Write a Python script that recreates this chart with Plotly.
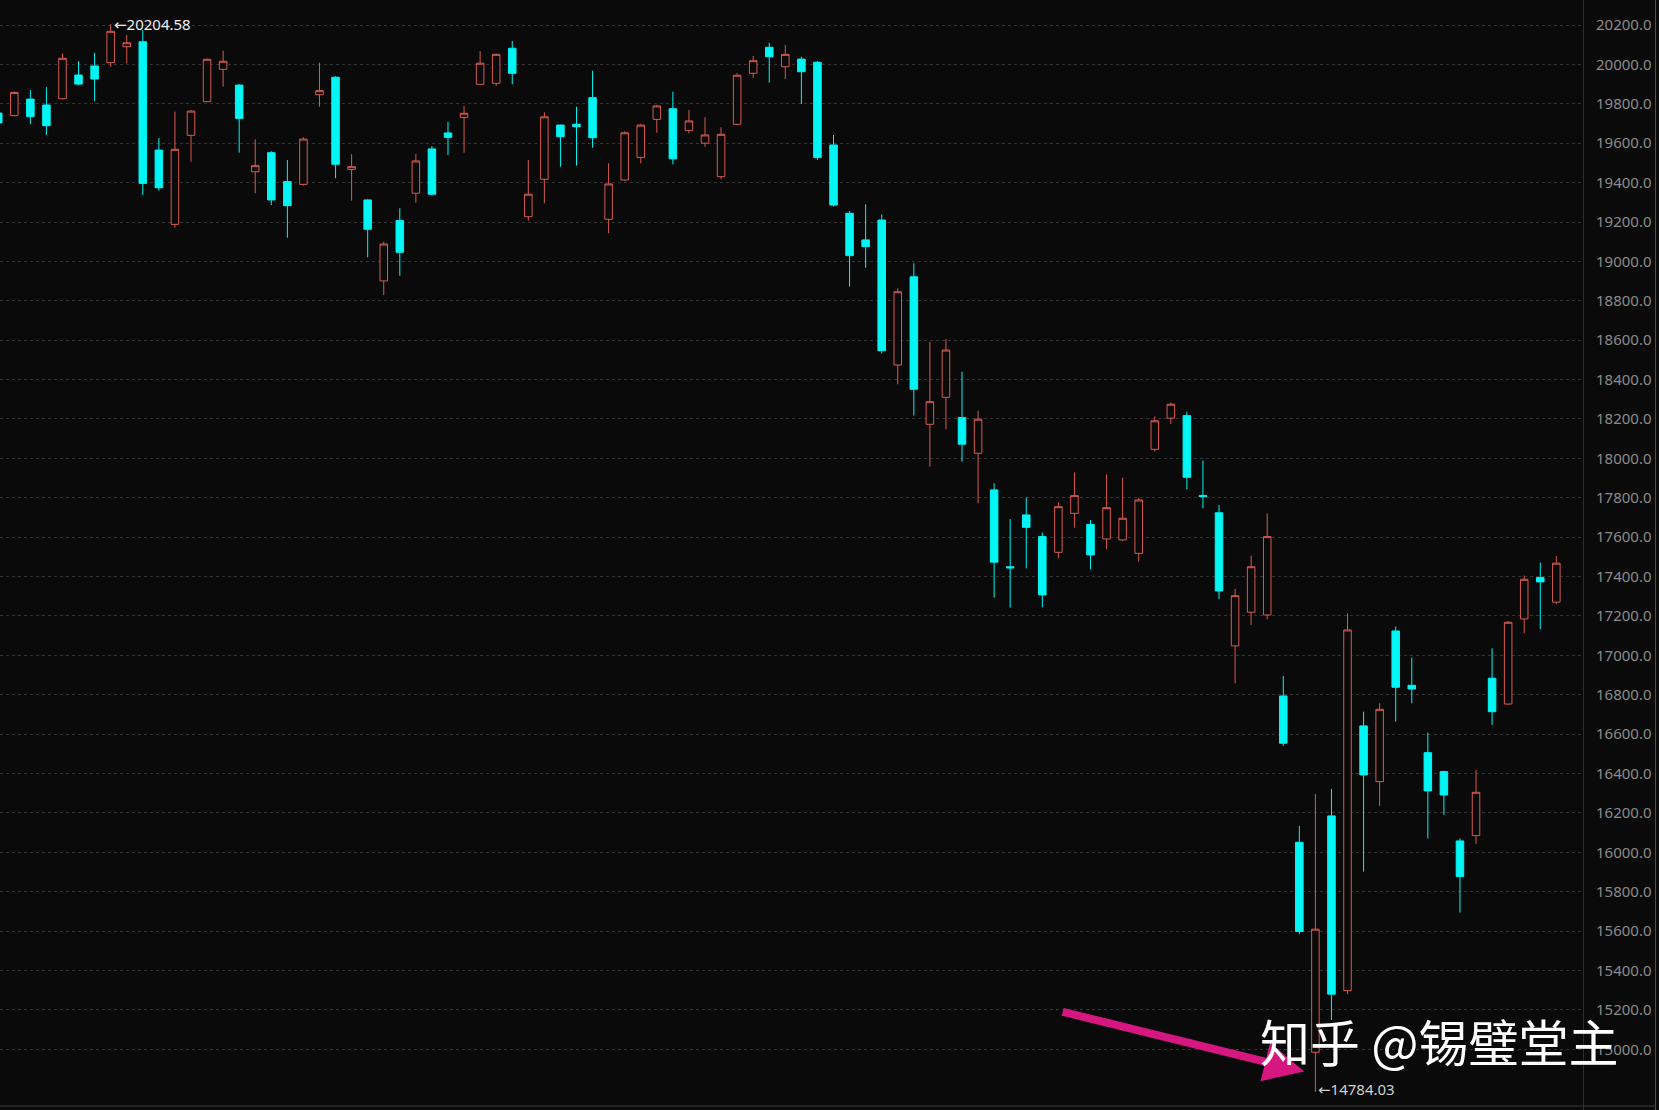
import plotly.graph_objects as go

idx = list(range(98))

opens = [19753, 19740, 19824, 19794, 19826, 19946, 19992, 20009, 20090, 20115,
         19565, 19188, 19640, 19811, 19975, 19895, 19455, 19552, 19405, 19391,
         19846, 19935, 19467, 19312, 18901, 19207, 19346, 19571, 19652, 19731,
         19899, 19904, 20082, 19227, 19417, 19692, 19696, 19831, 19214, 19413,
         19528, 19721, 19775, 19664, 19600, 19430, 19696, 19955, 20087, 19988,
         20027, 20011, 19591, 19244, 19109, 19210, 18474, 18922, 18173, 18310,
         18207, 18026, 17840, 17450, 17713, 17603, 17523, 17721, 17665, 17591,
         17586, 17518, 18046, 18204, 18217, 17812, 17724, 17048, 17219, 17205,
         16794, 16051, 14985, 16185, 15298, 16642, 16359, 17124, 16848, 16506,
         16410, 16058, 16085, 16884, 16753, 17185, 17395, 17270]
highs = [19775, 19862, 19870, 19884, 20056, 20017, 20059, 20204.58, 20149, 20175,
         19626, 19760, 19768, 20030, 20070, 19900, 19620, 19560, 19515, 19630,
         20009, 19940, 19545, 19315, 19100, 19270, 19545, 19585, 19709, 19789,
         20068, 20055, 20119, 19515, 19757, 19695, 19785, 19968, 19498, 19660,
         19698, 19795, 19861, 19769, 19732, 19681, 19955, 20043, 20110, 20098,
         20039, 20017, 19642, 19256, 19290, 19239, 18863, 18990, 18592, 18606,
         18440, 18242, 17874, 17692, 17801, 17623, 17777, 17929, 17687, 17919,
         17902, 17801, 18212, 18283, 18237, 17989, 17763, 17337, 17506, 17721,
         16895, 16134, 16296, 16322, 17214, 16714, 16757, 17146, 16988, 16608,
         16415, 16071, 16418, 17036, 17175, 17405, 17471, 17505]
lows = [19690, 19736, 19697, 19642, 19822, 19894, 19814, 19988, 20005, 19337,
        19359, 19171, 19506, 19808, 19887, 19552, 19346, 19286, 19120, 19385,
        19785, 19422, 19308, 19021, 18830, 18927, 19298, 19335, 19540, 19552,
        19895, 19890, 19899, 19207, 19295, 19481, 19486, 19577, 19143, 19410,
        19498, 19653, 19493, 19650, 19582, 19417, 19690, 19932, 19907, 19926,
        19799, 19515, 19278, 18872, 18968, 18533, 18376, 18217, 17958, 18148,
        17983, 17772, 17293, 17242, 17442, 17244, 17493, 17648, 17437, 17539,
        17581, 17476, 18034, 18175, 17843, 17747, 17285, 16858, 17154, 17183,
        16540, 15584, 14784.03, 15149, 15280, 15902, 16236, 16664, 16757, 16071,
        16190, 15694, 16043, 16647, 16748, 17112, 17133, 17261]
closes = [19703, 19858, 19735, 19689, 20031, 19900, 19926, 20168, 20110, 19396,
          19374, 19569, 19763, 20026, 20016, 19726, 19486, 19312, 19283, 19621,
          19867, 19493, 19481, 19163, 19088, 19046, 19510, 19341, 19630, 19752,
          20006, 20051, 19955, 19341, 19734, 19633, 19684, 19628, 19393, 19653,
          19692, 19789, 19521, 19713, 19642, 19645, 19945, 20019, 20039, 20051,
          19963, 19527, 19286, 19029, 19075, 18547, 18846, 18351, 18288, 18550,
          18072, 18199, 17473, 17444, 17650, 17307, 17755, 17811, 17510, 17750,
          17696, 17789, 18191, 18275, 17904, 17806, 17327, 17303, 17450, 17603,
          16554, 15598, 15610, 15280, 17129, 16393, 16726, 16838, 16829, 16312,
          16291, 15877, 16305, 16714, 17168, 17386, 17373, 17468]

tick_vals = [15000 + 200 * k for k in range(27)]
tick_text = [f"{v:.1f}" for v in tick_vals]

max_label = "←20204.58"
min_label = "←14784.03"
watermark = "知乎 @锡璧堂主"

BG = "#0a0a0a"
RED = "#d65a50"
CYAN = "#00f5f5"

fig = go.Figure()
fig.add_trace(go.Candlestick(
    x=idx, open=opens, high=highs, low=lows, close=closes,
    increasing=dict(line=dict(color=RED, width=1), fillcolor=BG),
    decreasing=dict(line=dict(color=CYAN, width=1), fillcolor=CYAN),
    whiskerwidth=0, hoverinfo="skip", showlegend=False,
))

fig.update_layout(
    width=1659, height=1110,
    margin=dict(l=0, r=76, t=0, b=0),
    paper_bgcolor=BG, plot_bgcolor=BG,
    boxgap=0.33,
    font=dict(family="Noto Sans, DejaVu Sans, sans-serif"),
    xaxis=dict(range=[0.11, 98.66], visible=False, rangeslider=dict(visible=False),
               showgrid=False, zeroline=False, fixedrange=True),
    yaxis=dict(range=[14692, 20327], side="right", tickvals=tick_vals, ticktext=tick_text,
               tickfont=dict(size=15, color="#8a8a8a"), ticks="", ticklabelstandoff=9,
               showgrid=True, gridcolor="#333333", griddash="dot", gridwidth=1,
               showline=True, linecolor="#2e2e2e", linewidth=1, zeroline=False),
    annotations=[
        dict(x=7, y=20204.58, xref="x", yref="y", text=max_label, showarrow=False,
             xanchor="left", yanchor="middle", xshift=1,
             font=dict(size=15, color="#f0f0f0")),
        dict(x=82, y=14784.03, xref="x", yref="y", text=min_label, showarrow=False,
             xanchor="left", yanchor="middle", xshift=1, yshift=3,
             font=dict(size=15, color="#d0d0d0")),
        dict(x=81.3, y=14888, xref="x", yref="y", text="", showarrow=True,
             ax=-243, ay=-60, axref="pixel", ayref="pixel",
             arrowhead=2, arrowsize=1.0, arrowwidth=8, arrowcolor="#d6177f", standoff=0),
        dict(x=0.7945, y=0.0635, xref="paper", yref="paper", text=watermark, showarrow=False,
             xanchor="left", yanchor="middle",
             font=dict(size=50, color="#ffffff", family="Noto Sans CJK SC")),
    ],
    shapes=[
        dict(type="line", xref="paper", yref="paper", x0=1.0458, x1=1.0458, y0=0, y1=1,
             line=dict(color="#505050", width=1)),
        dict(type="line", xref="paper", yref="paper", x0=0, x1=1.0458, y0=0.0036, y1=0.0036,
             line=dict(color="#3c3c3c", width=1)),
    ],
)

fig.write_html("out.html", config={"displayModeBar": False},
               post_script="document.body.style.margin='0';document.body.style.overflow='hidden';")
